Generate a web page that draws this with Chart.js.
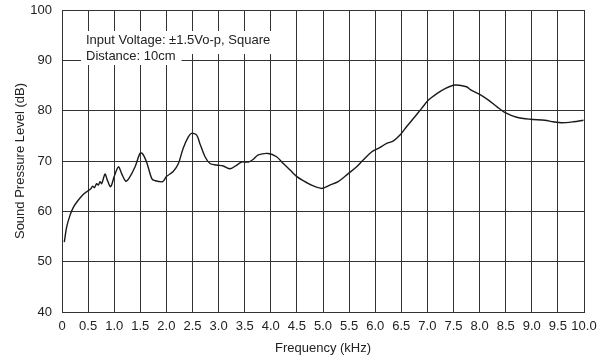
<!DOCTYPE html>
<html>
<head>
<meta charset="utf-8">
<script src="https://cdn.jsdelivr.net/npm/chart.js@4/dist/chart.umd.min.js"></script>
<style>
  html, body { margin: 0; padding: 0; background: #fff; }
  #wrap { width: 608px; height: 360px; }
</style>
</head>
<body>
<div id="wrap"><canvas id="c" width="608" height="360"></canvas></div>
<script>
// Frequency (kHz) and Sound Pressure Level (dB)
const freqKHz = [0.044, 0.09, 0.153, 0.217, 0.31, 0.41, 0.50, 0.556, 0.587, 0.62, 0.664, 0.696, 0.728, 0.76, 0.824, 0.868, 0.932, 1.0, 1.08, 1.143, 1.22, 1.28, 1.40, 1.494, 1.54, 1.62, 1.72, 1.78, 1.93, 2.0, 2.13, 2.23, 2.32, 2.42, 2.48, 2.58, 2.64, 2.74, 2.835, 2.96, 3.09, 3.22, 3.35, 3.44, 3.57, 3.66, 3.76, 3.95, 4.11, 4.24, 4.37, 4.50, 4.62, 4.78, 4.975, 5.13, 5.29, 5.485, 5.645, 5.77, 5.93, 6.06, 6.22, 6.35, 6.475, 6.60, 6.76, 6.89, 7.02, 7.18, 7.34, 7.53, 7.75, 7.82, 8.01, 8.17, 8.33, 8.49, 8.71, 8.97, 9.25, 9.41, 9.57, 9.80, 9.99];
const splDB = [53.9, 56.9, 59.2, 60.8, 62.2, 63.4, 64.1, 64.55, 65.0, 64.7, 65.5, 65.2, 65.9, 65.5, 67.4, 66.2, 64.9, 66.9, 68.85, 67.5, 66.0, 66.5, 68.85, 71.5, 71.5, 69.8, 66.5, 66.1, 65.9, 66.9, 67.9, 69.5, 72.5, 74.8, 75.5, 75.15, 73.5, 70.85, 69.5, 69.2, 69.0, 68.45, 69.2, 69.8, 69.8, 70.3, 71.2, 71.5, 70.85, 69.5, 68.2, 66.9, 66.1, 65.2, 64.55, 65.2, 65.9, 67.5, 68.85, 70.2, 71.8, 72.5, 73.5, 74.0, 75.15, 76.8, 78.8, 80.45, 82.1, 83.4, 84.4, 85.1, 84.75, 84.2, 83.2, 82.1, 80.8, 79.6, 78.7, 78.3, 78.1, 77.8, 77.6, 77.8, 78.1];

const xTitle = 'Frequency (kHz)';
const yTitle = 'Sound Pressure Level (dB)';
const noteLines = ['Input Voltage: \u00b11.5Vo-p, Square', 'Distance: 10cm'];

const FONT = '"Liberation Sans", Arial, Helvetica, sans-serif';
const INK = '#222';
const GRID = '#333';

const notePlugin = {
  id: 'note',
  afterDatasetsDraw(chart) {
    const { ctx, chartArea } = chart;
    ctx.save();
    ctx.font = '13px ' + FONT;
    const tx = chartArea.left + 24;
    const base1 = chartArea.top + 34;
    const lineH = 16;
    const w1 = ctx.measureText(noteLines[0]).width;
    const w2 = ctx.measureText(noteLines[1]).width;
    ctx.fillStyle = '#fff';
    ctx.fillRect(tx - 5, chartArea.top + 21, w1 + 9, 23);
    ctx.fillRect(tx - 5, chartArea.top + 44, w2 + 11, 11);
    ctx.fillStyle = INK;
    ctx.textBaseline = 'alphabetic';
    ctx.textAlign = 'left';
    ctx.fillText(noteLines[0], tx, base1);
    ctx.fillText(noteLines[1], tx, base1 + lineH);
    ctx.restore();
  }
};

new Chart(document.getElementById('c'), {
  type: 'line',
  data: {
    datasets: [{
      data: freqKHz.map((f, i) => ({ x: f, y: splDB[i] })),
      borderColor: '#1a1a1a',
      borderWidth: 1.4,
      pointRadius: 0,
      tension: 0.3,
      fill: false
    }]
  },
  options: {
    responsive: false,
    animation: false,
    events: [],
    layout: { padding: { top: 10, right: 24, left: 0, bottom: 0 } },
    plugins: { legend: { display: false }, tooltip: { enabled: false } },
    scales: {
      x: {
        type: 'linear',
        min: 0, max: 10,
        afterFit(s) { s.height = 48; s.paddingLeft = 0; s.paddingRight = 0; },
        grid: { color: GRID, lineWidth: 1, drawTicks: false },
        border: { color: GRID, width: 1 },
        ticks: {
          stepSize: 0.5, autoSkip: false, maxRotation: 0, padding: 7,
          color: INK, font: { family: FONT, size: 13 },
          callback: v => v === 0 ? '0' : Number(v).toFixed(1)
        },
        title: { display: true, text: xTitle, color: INK, font: { family: FONT, size: 13 }, padding: { top: 0, bottom: 4 } }
      },
      y: {
        min: 40, max: 100,
        afterFit(s) { s.width = 62; s.paddingTop = 0; s.paddingBottom = 0; },
        grid: { color: GRID, lineWidth: 1, drawTicks: false },
        border: { color: GRID, width: 1 },
        ticks: { stepSize: 10, padding: 10, color: INK, font: { family: FONT, size: 13 } },
        title: { display: true, text: yTitle, color: INK, font: { family: FONT, size: 13 }, padding: { top: 13, bottom: 0 } }
      }
    }
  },
  plugins: [notePlugin]
});
</script>
</body>
</html>
